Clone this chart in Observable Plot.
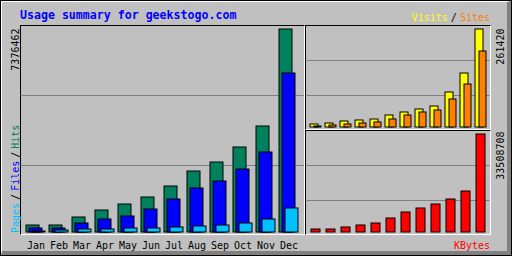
<!DOCTYPE html>
<html><head><meta charset="utf-8">
<script src="https://cdn.jsdelivr.net/npm/d3@7"></script>
<script src="https://cdn.jsdelivr.net/npm/@observablehq/plot@0.6"></script>
<style>
html,body{margin:0;padding:0;background:#c0c0c0;}
#chart{position:relative;width:512px;height:256px;background:#c0c0c0;overflow:hidden;font-family:"DejaVu Sans Mono",monospace;}
#outer{position:absolute;left:0;top:0;width:512px;height:256px;box-sizing:border-box;border:1px solid #000;}
#bevel{position:absolute;left:1px;top:1px;width:510px;height:254px;box-sizing:border-box;border-left:1px solid #fff;border-top:1px solid #fff;border-right:4px solid #808080;border-bottom:4px solid #808080;}
.panel{position:absolute;box-sizing:border-box;border-style:solid;border-width:1px;border-color:#000 #fff #fff #000;}
.layer{position:absolute;left:0;top:0;}
.lbl{position:absolute;font-family:"DejaVu Sans Mono",monospace;font-size:10px;line-height:13px;white-space:nowrap;}
.sep{color:#000;margin:0 3px;}
</style></head>
<body>
<div id="chart">
  <div id="outer"></div>
  <div id="bevel"></div>
  <div class="panel" style="left:20px;top:25px;width:285px;height:210px"></div>
  <div class="panel" style="left:305px;top:25px;width:186px;height:105px"></div>
  <div class="panel" style="left:305px;top:130px;width:186px;height:105px"></div>
</div>
<script>
const months = ["Jan","Feb","Mar","Apr","May","Jun","Jul","Aug","Sep","Oct","Nov","Dec"];
const hits   = [252140, 257330, 545900, 799210, 1018850, 1272370, 1669720, 2215430, 2541960, 3086410, 3853270, 7376462];
const files  = [144870, 146210, 327550, 471920, 582140, 835020, 1199860, 1598230, 1852710, 2289940, 2906350, 5777210];
const pages  = [36540, 72810, 108650, 109470, 145120, 145830, 181930, 218460, 254090, 327210, 472030, 872640];
const visits = [8010, 10640, 16030, 18650, 21360, 31980, 40050, 47990, 56040, 93310, 144120, 261420];
const sites  = [2690, 5310, 8020, 10650, 13360, 21320, 32040, 39980, 45370, 74710, 114680, 202790];
const kbytes = [1027430, 1024160, 1710250, 2392870, 3078110, 4786140, 6839020, 8205470, 9574330, 11282160, 14019440, 33508708];

const rows = months.map((m, i) => ({month: m, hits: hits[i], files: files[i], pages: pages[i],
  visits: visits[i], sites: sites[i], kbytes: kbytes[i]}));

const hitsMax = d3.max(hits), visitsMax = d3.max(visits), kbMax = d3.max(kbytes);
const FONT = "DejaVu Sans Mono";
const chart = document.getElementById("chart");
const style = {background: "transparent", fontFamily: FONT, fontSize: "10px", overflow: "visible"};
// value whose bar top would sit on a given pixel row (used for the fixed grid lines)
const atRow = (s, row) => s.domain[1] * (s.range[0] - row) / (s.range[0] - s.range[1]);
function add(p) { p.classList.add("layer"); chart.append(p); }

// Hits / Files / Pages
const yL = {domain: [0, hitsMax], range: [232, 29]};
add(Plot.plot({
  width: 512, height: 256, marginLeft: 20.5, marginRight: 208.5, marginTop: 25, marginBottom: 24,
  style,
  x: {type: "band", domain: months, range: [26, 292], paddingInner: 10/23, paddingOuter: 0, round: false, axis: null},
  y: {...yL, round: true, axis: null},
  marks: [
    Plot.ruleY([95, 165].map(r => atRow(yL, r)), {stroke: "#808080"}),
    Plot.barY(rows, {x: "month", y: "hits", fill: "#00805c", stroke: "#000"}),
    Plot.barY(rows, {x: "month", y: "files", fill: "#0000ff", stroke: "#000", dx: 3}),
    Plot.barY(rows, {x: "month", y: "pages", fill: "#00c0ff", stroke: "#000", dx: 6}),
    Plot.text(months, {x: d => d, frameAnchor: "bottom", lineAnchor: "top", dy: 9.4, dx: 3, fill: "#000"}),
    Plot.text([hitsMax], {y: d => d, text: d => String(d), frameAnchor: "left", rotate: -90,
      textAnchor: "end", lineAnchor: "bottom", dx: -2, dy: -1, fill: "#000"})
  ]
}));

// Visits / Sites
const yV = {domain: [0, visitsMax], range: [127, 29]};
add(Plot.plot({
  width: 512, height: 256, marginLeft: 305.5, marginRight: 22.5, marginTop: 25, marginBottom: 127,
  style,
  x: {type: "band", domain: months, range: [310, 483], paddingInner: 7/15, paddingOuter: 0, round: false, axis: null},
  y: {...yV, round: true, axis: null},
  marks: [
    Plot.ruleY([60, 95].map(r => atRow(yV, r)), {stroke: "#808080"}),
    Plot.barY(rows, {x: "month", y: "visits", fill: "#ffff00", stroke: "#000"}),
    Plot.barY(rows, {x: "month", y: "sites", fill: "#ff8000", stroke: "#000", dx: 4, insetRight: 1}),
    Plot.text([visitsMax], {y: d => d, text: d => String(d), frameAnchor: "right", rotate: -90,
      textAnchor: "end", lineAnchor: "bottom", dx: 14, dy: -1, fill: "#000"})
  ]
}));

// KBytes
const yK = {domain: [0, kbMax], range: [232, 134]};
add(Plot.plot({
  width: 512, height: 256, marginLeft: 305.5, marginRight: 22.5, marginTop: 130, marginBottom: 22,
  style,
  x: {type: "band", domain: months, range: [311, 485], paddingInner: 6/15, paddingOuter: 0, round: false, axis: null},
  y: {...yK, round: true, axis: null},
  marks: [
    Plot.ruleY([165, 200].map(r => atRow(yK, r)), {stroke: "#808080"}),
    Plot.barY(rows, {x: "month", y: "kbytes", fill: "#ff0000", stroke: "#000"}),
    Plot.text([kbMax], {y: d => d, text: d => String(d), frameAnchor: "right", rotate: -90,
      textAnchor: "end", lineAnchor: "bottom", dx: 14, dy: -3, fill: "#000"})
  ]
}));

// titles and legends
function label(html, css) {
  const d = document.createElement("div");
  d.className = "lbl"; d.style.cssText = css; d.innerHTML = html; chart.append(d);
}
label("Usage summary for geekstogo.com", "left:20px;top:8.5px;font-size:11.6px;font-weight:bold;color:#0000ff");
label('<span style="color:#ffff00">Visits</span><span class="sep">/</span><span style="color:#ff8000">Sites</span>', "right:22px;top:11px");
label('<span style="color:#ff0000">KBytes</span>', "right:22px;top:239px");
label('<span style="color:#00c0ff">Pages</span><span class="sep">/</span><span style="color:#0000ff">Files</span><span class="sep">/</span><span style="color:#00805c">Hits</span>',
  "left:9px;top:233px;transform-origin:0 0;transform:rotate(-90deg)");
</script>
</body></html>
